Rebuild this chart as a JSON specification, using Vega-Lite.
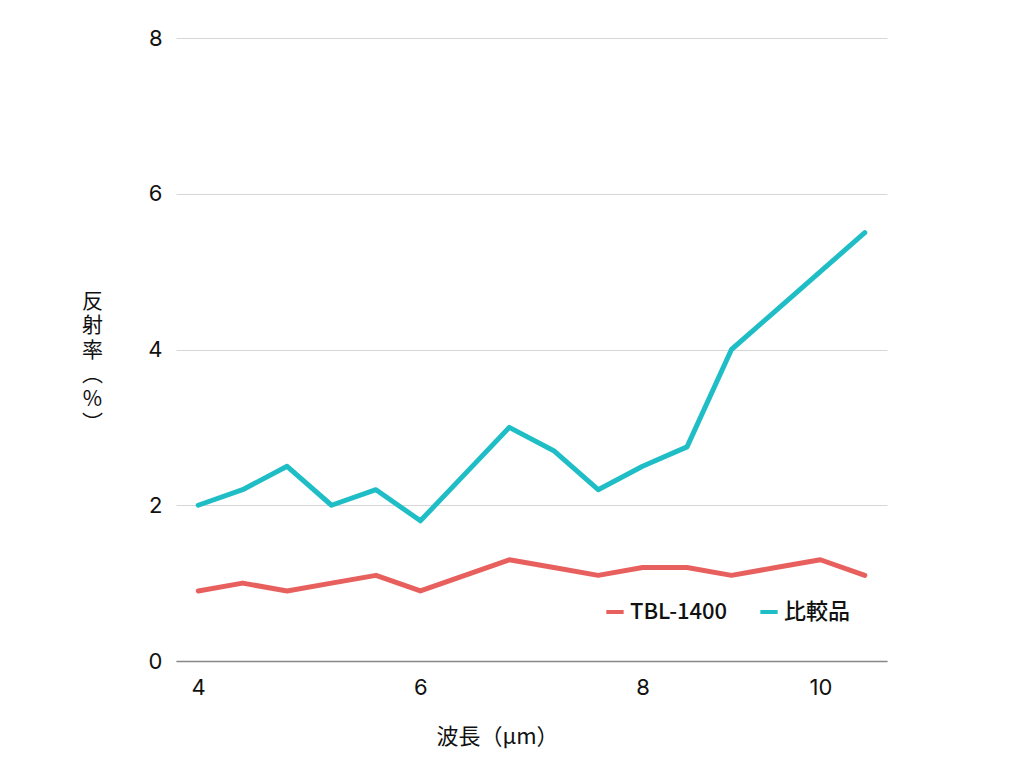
{
  "$schema": "https://vega.github.io/schema/vega-lite/v6.json",
  "autosize": "none",
  "width": 711,
  "height": 623,
  "padding": {"left": 176, "top": 38, "right": 137, "bottom": 107},
  "background": "white",
  "config": {
    "font": "Inter",
    "view": {"stroke": null}
  },
  "data": {
    "values": [
      {"wl": "4", "series": "TBL-1400", "value": 0.9},
      {"wl": "4.4", "series": "TBL-1400", "value": 1.0},
      {"wl": "4.8", "series": "TBL-1400", "value": 0.9},
      {"wl": "5.2", "series": "TBL-1400", "value": 1.0},
      {"wl": "5.6", "series": "TBL-1400", "value": 1.1},
      {"wl": "6", "series": "TBL-1400", "value": 0.9},
      {"wl": "6.4", "series": "TBL-1400", "value": 1.1},
      {"wl": "6.8", "series": "TBL-1400", "value": 1.3},
      {"wl": "7.2", "series": "TBL-1400", "value": 1.2},
      {"wl": "7.6", "series": "TBL-1400", "value": 1.1},
      {"wl": "8", "series": "TBL-1400", "value": 1.2},
      {"wl": "8.5", "series": "TBL-1400", "value": 1.2},
      {"wl": "9", "series": "TBL-1400", "value": 1.1},
      {"wl": "9.5", "series": "TBL-1400", "value": 1.2},
      {"wl": "10", "series": "TBL-1400", "value": 1.3},
      {"wl": "10.5", "series": "TBL-1400", "value": 1.1},
      {"wl": "4", "series": "比較品", "value": 2.0},
      {"wl": "4.4", "series": "比較品", "value": 2.2},
      {"wl": "4.8", "series": "比較品", "value": 2.5},
      {"wl": "5.2", "series": "比較品", "value": 2.0},
      {"wl": "5.6", "series": "比較品", "value": 2.2},
      {"wl": "6", "series": "比較品", "value": 1.8},
      {"wl": "6.4", "series": "比較品", "value": 2.4},
      {"wl": "6.8", "series": "比較品", "value": 3.0},
      {"wl": "7.2", "series": "比較品", "value": 2.7},
      {"wl": "7.6", "series": "比較品", "value": 2.2},
      {"wl": "8", "series": "比較品", "value": 2.5},
      {"wl": "8.5", "series": "比較品", "value": 2.75},
      {"wl": "9", "series": "比較品", "value": 4.0},
      {"wl": "9.5", "series": "比較品", "value": 4.5},
      {"wl": "10", "series": "比較品", "value": 5.0},
      {"wl": "10.5", "series": "比較品", "value": 5.5}
    ]
  },
  "mark": {"type": "line", "strokeWidth": 5, "strokeCap": "round", "strokeJoin": "round"},
  "encoding": {
    "x": {
      "field": "wl",
      "type": "ordinal",
      "sort": null,
      "scale": {"type": "point", "padding": 0.5},
      "axis": {
        "values": ["4", "6", "8", "10"],
        "labelAngle": 0,
        "labelFontSize": 22,
        "labelColor": "#111",
        "labelPadding": 16,
        "ticks": false,
        "grid": false,
        "domain": true,
        "domainColor": "#888",
        "domainWidth": 1.5,
        "title": "波長（μm）",
        "titleFont": "Noto Sans CJK JP",
        "titleFontSize": 22,
        "titleFontWeight": "normal",
        "titleColor": "#111",
        "titleAlign": "center",
        "titleBaseline": "middle",
        "titleX": 321,
        "titleY": 75
      }
    },
    "y": {
      "field": "value",
      "type": "quantitative",
      "scale": {"domain": [0, 8]},
      "axis": {
        "values": [0, 2, 4, 6, 8],
        "labelFontSize": 22,
        "labelColor": "#111",
        "labelPadding": 14,
        "ticks": false,
        "domain": false,
        "grid": true,
        "gridColor": "#d6d6d6",
        "gridWidth": 1,
        "title": ["反", "射", "率", "︵", "%", "︶"],
        "titleFont": "Noto Sans CJK JP",
        "titleFontSize": 21,
        "titleFontWeight": "normal",
        "titleColor": "#111",
        "titleAngle": 0,
        "titleAlign": "center",
        "titleBaseline": "top",
        "titleLineHeight": 24.5,
        "titleX": -84,
        "titleY": 252
      }
    },
    "color": {
      "field": "series",
      "type": "nominal",
      "scale": {"domain": ["TBL-1400", "比較品"], "range": ["#E8605E", "#1FBEC6"]},
      "legend": {
        "title": null,
        "orient": "none",
        "direction": "horizontal",
        "legendX": 428,
        "legendY": 563,
        "symbolType": "stroke",
        "symbolSize": 300,
        "symbolStrokeWidth": 4,
        "labelFontSize": 22,
        "labelFontWeight": 500,
        "labelFont": "Noto Sans CJK JP",
        "labelColor": "#111",
        "labelOffset": 4,
        "columnPadding": 24
      }
    }
  }
}
